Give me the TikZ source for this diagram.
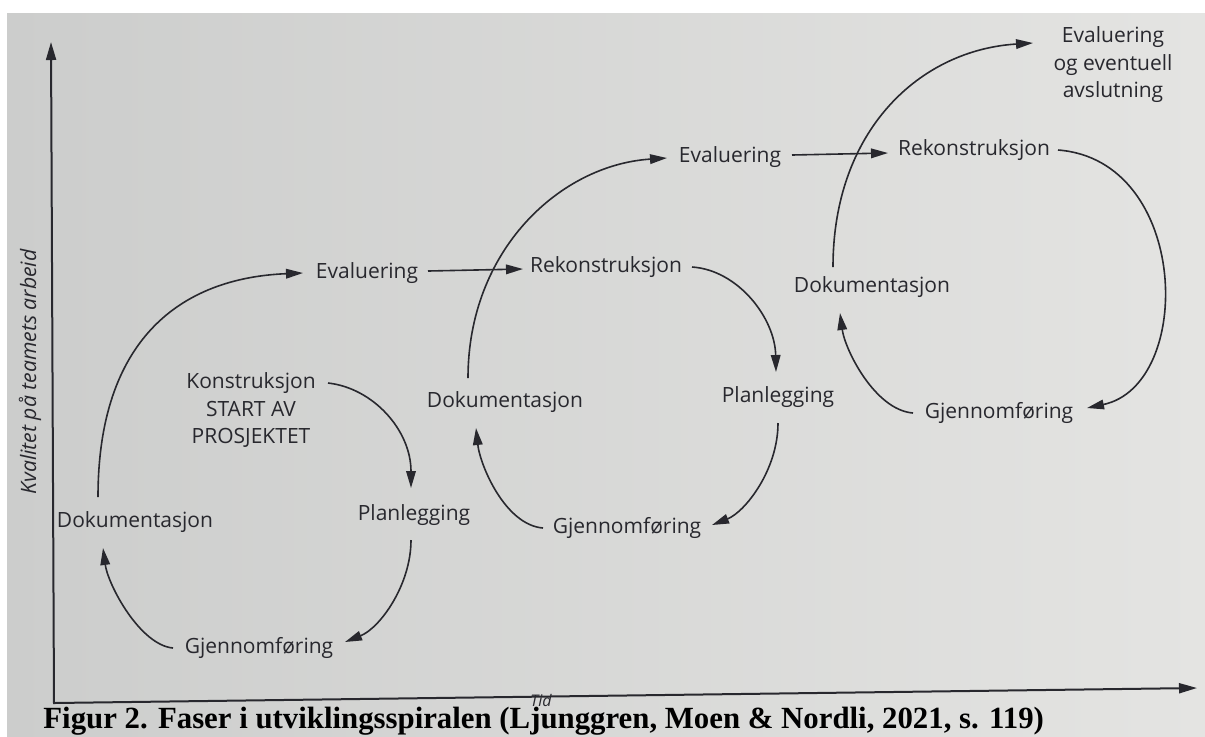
\documentclass[tikz,border=0pt]{standalone}
\usepackage{fontspec}
\setmainfont{Liberation Serif}
\newfontfamily\labfont{Open Sans}
\usetikzlibrary{arrows.meta,calc}
\definecolor{ink}{RGB}{40,40,46}
\definecolor{paperL}{RGB}{204,205,204}
\definecolor{paperR}{RGB}{228,228,226}
\begin{document}
\begin{tikzpicture}[x=0.5pt,y=-0.5pt,
  lab/.style={font=\labfont\fontsize{10.5}{13.75}\selectfont, text=ink, inner sep=0pt, align=center},
  flow/.style={draw=ink, line width=0.8pt, -{Triangle[length=8.5pt,width=4.8pt]}},
  axisline/.style={draw=ink, line width=1pt, line join=miter, {Triangle[length=9pt,width=5pt]}-{Triangle[length=9pt,width=5pt]}}]
\fill[white] (0,0) rectangle (1205,736);
\shade[left color=paperL, right color=paperR] (7,13) rectangle (1205,736);
\useasboundingbox (0,0) rectangle (1205,736);

% axes
\coordinate (O) at (54,703);
\coordinate (Ytop) at (51,42);
\coordinate (Xend) at (1197,688);
\draw[axisline] (Ytop) -- (O) -- (Xend);
\node[lab, font=\labfont\itshape\fontsize{10.6}{12}\selectfont, rotate=90] (YL) at (30,372) {Kvalitet på teamets arbeid};
\node[lab, font=\labfont\itshape\fontsize{8}{9}\selectfont] (T) at (541,700) {Tid};

% cycle 1
\node[lab] (K1) at (251,410) {Konstruksjon\\START AV\\PROSJEKTET};
\node[lab] (P1) at (414,515) {Planlegging};
\node[lab] (G1) at (259,648) {Gjennomføring};
\node[lab] (D1) at (135,522) {Dokumentasjon};
\node[lab] (E1) at (367,273) {Evaluering};
% cycle 2
\node[lab] (R2) at (606,267) {Rekonstruksjon};
\node[lab] (P2) at (778,397) {Planlegging};
\node[lab] (G2) at (627,528) {Gjennomføring};
\node[lab] (D2) at (505,402) {Dokumentasjon};
\node[lab] (E2) at (730,157) {Evaluering};
% cycle 3
\node[lab] (R3) at (974,150) {Rekonstruksjon};
\node[lab] (G3) at (999,413) {Gjennomføring};
\node[lab] (D3) at (872,287) {Dokumentasjon};
\node[lab] (F) at (1113,65) {Evaluering\\og eventuell\\avslutning};

% connectors cycle 1
\draw[flow] ($(K1)+(77,-27)$) .. controls +(45,5) and +(0,-58) .. ($(P1)+(-3,-27)$);
\draw[flow] ($(P1)+(-3,25)$) .. controls +(0,45) and +(35,-14) .. ($(G1)+(86,-6)$);
\draw[flow] ($(G1)+(-86,0)$) .. controls +(-33,-3) and +(5,37) .. ($(D1)+(-32,26)$);
\draw[flow] ($(D1)+(-37,-25)$) .. controls +(0,-157) and +(-123,5) .. ($(E1)+(-64,0)$);
\draw[flow] ($(E1)+(61,-2)$) -- ($(R2)+(-83,2)$);
% connectors cycle 2
\draw[flow] ($(R2)+(86,0)$) .. controls +(46,3) and +(-1,-54) .. ($(P2)+(-2,-25)$);
\draw[flow] ($(P2)+(0,26)$) .. controls +(0,47) and +(33,-13) .. ($(G2)+(85,-3)$);
\draw[flow] ($(G2)+(-84,0)$) .. controls +(-38,-3) and +(4,37) .. ($(D2)+(-29,26)$);
\draw[flow] ($(D2)+(-37,-24)$) .. controls +(0,-128) and +(-107,7) .. ($(E2)+(-63,1)$);
\draw[flow] ($(E2)+(62,-2)$) -- ($(R3)+(-86,3)$);
% connectors cycle 3
\draw[flow] ($(R3)+(84,0)$) .. controls +(132,10) and +(108,-23) .. ($(G3)+(88,-5)$);
\draw[flow] ($(G3)+(-86,0)$) .. controls +(-38,-3) and +(5,37) .. ($(D3)+(-32,26)$);
\draw[flow] ($(D3)+(-39,-20)$) .. controls +(0,-137) and +(-113,7) .. ($(F)+(-80,-22)$);

% caption
\node[anchor=base west, font=\bfseries\fontsize{15.4}{18}\selectfont, inner sep=0pt, text=black] (C) at (43,728) {Figur 2. Faser i utviklingsspiralen (Ljunggren, Moen \& Nordli, 2021, s. 119)};
\end{tikzpicture}
\end{document}
